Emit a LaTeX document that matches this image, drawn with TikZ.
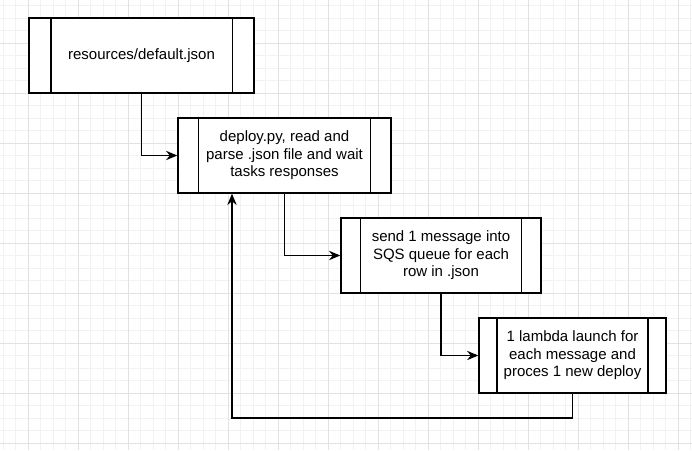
\documentclass[tikz,border=0pt]{standalone}
\usepackage{fontspec}
\setmainfont{Liberation Sans}
\usetikzlibrary{arrows.meta}
\definecolor{gridminor}{HTML}{F2F2F2}
\definecolor{gridmajor}{HTML}{E2E2E2}
\tikzset{
  procbox/.style={draw=black, fill=white, line width=1pt, minimum height=75*0.75pt, inner sep=0pt,
    font=\fontsize{11.25pt}{13.2pt}\selectfont, align=center},
  conn/.style={draw=black, line width=1pt},
  arr/.style={conn, -{Stealth[length=8.5pt, width=7pt, inset=2.8pt]}},
}
\begin{document}
\begin{tikzpicture}[x=0.75pt, y=-0.75pt]
\useasboundingbox (0,0) rectangle (692,450);
\fill[white] (0,0) rectangle (692,450);
% grid
\foreach \i in {0,...,55} {
  \pgfmathsetmacro{\gx}{3.333+12.5*\i}
  \draw[gridminor, line width=0.75pt] (\gx,0) -- (\gx,450);
}
\foreach \i in {0,...,36} {
  \pgfmathsetmacro{\gy}{5.833+12.5*\i}
  \draw[gridminor, line width=0.75pt] (0,\gy) -- (692,\gy);
}
\foreach \i in {0,...,13} {
  \pgfmathsetmacro{\gx}{28.333+50*\i}
  \draw[gridmajor, line width=0.75pt] (\gx,0) -- (\gx,450);
}
\foreach \i in {0,...,9} {
  \pgfmathsetmacro{\gy}{-6.667+50*\i}
  \draw[gridmajor, line width=0.75pt] (0,\gy) -- (692,\gy);
}
% boxes
\node[procbox, minimum width=225*0.75pt] (b1) at (141.5,55.5) {resources/default.json};
\node[procbox, minimum width=213*0.75pt] (b2) at (284.5,155.5) {deploy.py, read and\\parse .json file and wait\\tasks responses};
\node[procbox, minimum width=200*0.75pt] (b3) at (441,255.5) {send 1 message into\\SQS queue for each\\row in .json};
\node[procbox, minimum width=187*0.75pt] (b4) at (572.5,355.5) {1 lambda launch for\\each message and\\proces 1 new deploy};
% side bars
\draw[conn] ([xshift=22.5*0.75pt]b1.north west) -- ([xshift=22.5*0.75pt]b1.south west);
\draw[conn] ([xshift=-22.5*0.75pt]b1.north east) -- ([xshift=-22.5*0.75pt]b1.south east);
\draw[conn] ([xshift=21.3*0.75pt]b2.north west) -- ([xshift=21.3*0.75pt]b2.south west);
\draw[conn] ([xshift=-21.3*0.75pt]b2.north east) -- ([xshift=-21.3*0.75pt]b2.south east);
\draw[conn] ([xshift=20*0.75pt]b3.north west) -- ([xshift=20*0.75pt]b3.south west);
\draw[conn] ([xshift=-20*0.75pt]b3.north east) -- ([xshift=-20*0.75pt]b3.south east);
\draw[conn] ([xshift=18.7*0.75pt]b4.north west) -- ([xshift=18.7*0.75pt]b4.south west);
\draw[conn] ([xshift=-18.7*0.75pt]b4.north east) -- ([xshift=-18.7*0.75pt]b4.south east);
% connectors
\draw[arr] (b1.south) |- (b2.west);
\draw[arr] (b2.south) |- (b3.west);
\draw[arr] (b3.south) |- (b4.west);
\coordinate (ret) at (232,418);
\draw[arr] (b4.south) |- (ret) -- (ret |- b2.south);
\end{tikzpicture}
\end{document}
